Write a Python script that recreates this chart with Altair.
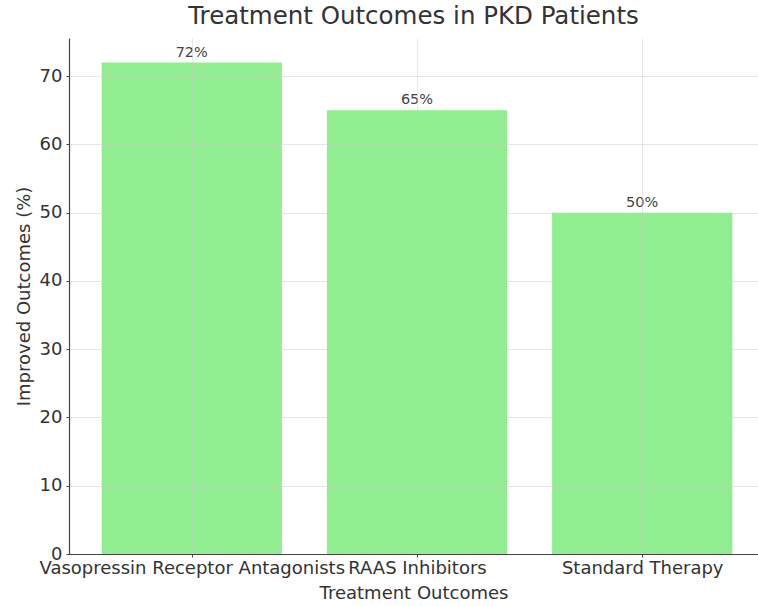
import altair as alt
import pandas as pd

categories = ["Vasopressin Receptor Antagonists", "RAAS Inhibitors", "Standard Therapy"]
values = [72, 65, 50]
label_texts = ["72%", "65%", "50%"]

df = pd.DataFrame({
    "treatment": categories,
    "value": values,
    "label": label_texts,
    "idx": list(range(len(categories))),
})

font = "DejaVu Sans"
text_color = "#333333"
labels_js = "[" + ",".join("'" + c + "'" for c in categories) + "]"

x_scale = alt.Scale(domain=[-0.545, 2.514], nice=False, zero=False)
y_scale = alt.Scale(domain=[0, 75.6], nice=False)

base = alt.Chart(df).transform_calculate(
    x0="datum.idx - 0.4", x1="datum.idx + 0.4"
)

bars = base.mark_bar(color="#90EE90").encode(
    x=alt.X(
        "x0:Q",
        scale=x_scale,
        axis=alt.Axis(
            title="Treatment Outcomes",
            values=[0, 1, 2],
            labelExpr=labels_js + "[datum.value]",
            labelOverlap=False,
            labelBound=False,
            labelFlush=False,
            labelLimit=0,
            grid=True,
            gridColor="#c8c8c8",
            gridOpacity=0.45,
            ticks=True,
            tickSize=3,
            tickColor="#444444",
            labelPadding=2,
            labelFontSize=18,
            titleFontSize=18,
            titlePadding=7,
            labelColor=text_color,
            titleColor=text_color,
            titleFontWeight="normal",
            domainColor="#444444",
            domainWidth=1.2,
            zindex=1,
        ),
    ),
    x2="x1:Q",
    y=alt.Y(
        "value:Q",
        scale=y_scale,
        axis=alt.Axis(
            title="Improved Outcomes (%)",
            values=[0, 10, 20, 30, 40, 50, 60, 70],
            grid=True,
            gridColor="#c8c8c8",
            gridOpacity=0.45,
            ticks=True,
            tickSize=3,
            tickColor="#444444",
            labelPadding=4,
            labelFontSize=18,
            titleFontSize=18,
            titlePadding=6,
            labelColor=text_color,
            titleColor=text_color,
            titleFontWeight="normal",
            domainColor="#444444",
            domainWidth=1.2,
            zindex=1,
        ),
    ),
    y2=alt.datum(0),
)

text = base.transform_calculate(xc="datum.idx").mark_text(
    baseline="bottom", dy=-3, fontSize=14.5, font=font, color="#444444"
).encode(
    x=alt.X("xc:Q", scale=x_scale),
    y=alt.Y("value:Q", scale=y_scale),
    text="label:N",
)

chart = alt.layer(bars, text).properties(
    width=689,
    height=516,
    title=alt.TitleParams(
        "Treatment Outcomes in PKD Patients",
        fontSize=24.5,
        font=font,
        fontWeight="normal",
        color=text_color,
        offset=9,
        anchor="middle",
    ),
    autosize=alt.AutoSizeParams(type="none"),
    padding={"left": 69, "top": 38, "right": 0, "bottom": 52},
).configure(font=font).configure_view(stroke=None)

chart.save("out.html", embed_options={"renderer": "svg", "actions": False})
